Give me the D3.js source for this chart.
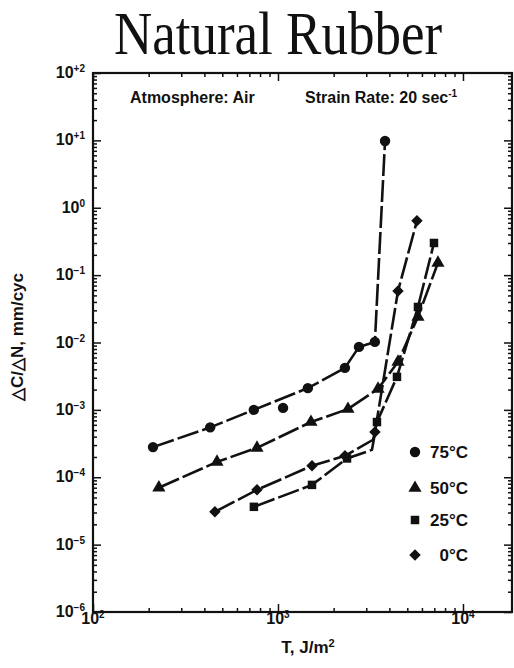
<!DOCTYPE html>
<html>
<head>
<meta charset="utf-8">
<script src="https://cdn.jsdelivr.net/npm/d3@7"></script>
<style>
  body { margin: 0; background: #fff; }
  text { font-family: "Liberation Sans", Arial, sans-serif; font-weight: bold; fill: #111; }
  .title { font-family: "Liberation Serif", "Times New Roman", serif; font-weight: normal; }
</style>
</head>
<body>
<div id="chart"></div>
<script>
// Crack growth rate vs tearing energy, natural rubber
const series = ['75°C', '50°C', '25°C', '0°C'];
const symbols = ['circle', 'triangle', 'square', 'diamond'];

// marker positions: tearing energy T (J/m²) and dC/dN (mm/cyc)
const t75 = [211, 430, 740, 1065, 1450, 2300, 2740, 3340, 3790];
const r75 = [2.8e-4, 5.5e-4, 1.0e-3, 1.07e-3, 2.1e-3, 4.2e-3, 8.6e-3, 1.02e-2, 9.8];
const t50 = [227, 468, 770, 1508, 2390, 3474, 4453, 5710, 7324];
const r50 = [7.0e-5, 1.69e-4, 2.73e-4, 6.6e-4, 1.03e-3, 2.05e-3, 5.15e-3, 0.024, 0.152];
const t25 = [741, 1527, 2361, 3428, 4397, 5710, 6970];
const r25 = [3.64e-5, 7.7e-5, 1.9e-4, 6.6e-4, 3.09e-3, 0.0337, 0.30];
const t0 = [456, 770, 1527, 2303, 3343, 4453, 5640];
const r0 = [3.07e-5, 6.5e-5, 1.48e-4, 2.08e-4, 4.7e-4, 0.058, 0.64];

// hand-drawn fit lines through the points
const fit75T = [211, 430, 740, 1450, 2300, 2740, 3340, 3790];
const fit75R = [2.8e-4, 5.5e-4, 1.0e-3, 2.1e-3, 4.2e-3, 8.6e-3, 1.02e-2, 9.8];
const fit50T = t50;
const fit50R = r50;
const fit25T = [741, 1527, 2361, 3221, 3428, 4397, 5710, 6970];
const fit25R = [3.64e-5, 7.7e-5, 1.9e-4, 2.55e-4, 6.6e-4, 3.09e-3, 0.0337, 0.30];
const fit0T = [456, 770, 1527, 2303, 3264, 3343, 4453, 5640];
const fit0R = [3.07e-5, 6.5e-5, 1.48e-4, 2.08e-4, 3.6e-4, 4.7e-4, 0.058, 0.64];

const xMajor = [1e2, 1e3, 1e4];
const xLabels = ['2', '3', '4'];
const yMajor = [1e-6, 1e-5, 1e-4, 1e-3, 1e-2, 1e-1, 1e0, 1e1, 1e2];
const yLabels = ['−6', '−5', '−4', '−3', '−2', '−1', '0', '+1', '+2'];

const width = 514, height = 668;
const plot = { left: 93, right: 512, top: 73, bottom: 612 };

const svg = d3.select('#chart').append('svg')
    .attr('width', width)
    .attr('height', height);

const x = d3.scaleLog().domain([1e2, Math.pow(10, 4.265)]).range([plot.left, plot.right]);
const y = d3.scaleLog().domain([1e-6, 1e2]).range([plot.bottom, plot.top]);

// minor tick values (2..9 in each decade)
function minors(lo, hi) {
    const out = [];
    for (let d = lo; d < hi; d *= 10) {
        for (let k = 2; k <= 9; k++) out.push(k * d);
    }
    return out;
}
const xMinor = minors(1e2, 1e4).concat([2e4]).filter(v => v <= x.domain()[1]);
const yMinor = minors(1e-6, 1e2);

// Title (the scan is stretched vertically)
svg.append('text')
    .attr('class', 'title')
    .attr('transform', 'translate(278,54) scale(1,1.15)')
    .attr('text-anchor', 'middle')
    .style('font-size', '53px')
    .text('Natural Rubber');

// Axes: all ticks point inward
function addAxis(axisFn, scale, values, size, tr) {
    const g = svg.append('g')
        .attr('transform', tr)
        .call(axisFn(scale).tickValues(values).tickSize(size).tickSizeOuter(0).tickFormat(''));
    g.select('.domain').remove();
    g.selectAll('line').attr('stroke', '#111').attr('stroke-width', 1.5);
    return g;
}
addAxis(d3.axisBottom, x, xMajor, -8, `translate(0,${plot.bottom})`);
addAxis(d3.axisBottom, x, xMinor, -4, `translate(0,${plot.bottom})`);
addAxis(d3.axisTop, x, xMajor, -8, `translate(0,${plot.top})`);
addAxis(d3.axisTop, x, xMinor, -4, `translate(0,${plot.top})`);
addAxis(d3.axisLeft, y, yMajor, -8, `translate(${plot.left},0)`);
addAxis(d3.axisLeft, y, yMinor, -4, `translate(${plot.left},0)`);
addAxis(d3.axisRight, y, yMajor, -8, `translate(${plot.right},0)`);
addAxis(d3.axisRight, y, yMinor, -4, `translate(${plot.right},0)`);

// frame
svg.append('rect')
    .attr('x', plot.left).attr('y', plot.top)
    .attr('width', plot.right - plot.left)
    .attr('height', plot.bottom - plot.top)
    .attr('fill', 'none')
    .attr('stroke', '#111')
    .attr('stroke-width', 2.2);

// y tick labels
yMajor.forEach((v, i) => {
    const t = svg.append('text')
        .attr('x', plot.left - 8)
        .attr('y', y(v) + 5)
        .attr('text-anchor', 'end')
        .style('font-size', '16px');
    t.append('tspan').text('10');
    t.append('tspan').attr('dy', -6).style('font-size', '10px').text(yLabels[i]);
});

// x tick labels
xMajor.forEach((v, i) => {
    const t = svg.append('text')
        .attr('x', x(v))
        .attr('y', 624)
        .attr('text-anchor', 'middle')
        .style('font-size', '16px');
    t.append('tspan').text('10');
    t.append('tspan').attr('dy', -6).style('font-size', '10px').text(xLabels[i]);
});

// axis titles
const xt = svg.append('text')
    .attr('x', 308).attr('y', 653)
    .attr('text-anchor', 'middle')
    .style('font-size', '17px');
xt.append('tspan').text('T,  J/m');
xt.append('tspan').attr('dy', -6).style('font-size', '11px').text('2');

svg.append('text')
    .attr('transform', 'translate(23,337) rotate(-90)')
    .attr('text-anchor', 'middle')
    .style('font-size', '17px')
    .text('△C/△N, mm/cyc');

// annotations
svg.append('text')
    .attr('x', 130).attr('y', 103)
    .style('font-size', '16px')
    .text('Atmosphere: Air');
const sr = svg.append('text')
    .attr('x', 305).attr('y', 103)
    .style('font-size', '16px');
sr.append('tspan').text('Strain Rate: 20 sec');
sr.append('tspan').attr('dy', -6).style('font-size', '10px').text('-1');

// data
const markerT = [t75, t50, t25, t0];
const markerR = [r75, r50, r25, r0];
const fitT = [fit75T, fit50T, fit25T, fit0T];
const fitR = [fit75R, fit50R, fit25R, fit0R];

const symbolType = {
    circle: d3.symbolCircle,
    triangle: d3.symbolTriangle,
    square: d3.symbolSquare,
    diamond: d3.symbolSquare
};
const symbolSize = { circle: 85, triangle: 75, square: 72, diamond: 66 };

function marker(sel, s) {
    sel.append('path')
        .attr('d', d3.symbol().type(symbolType[s]).size(symbolSize[s])())
        .attr('transform', s === 'diamond' ? 'rotate(45)' : null)
        .attr('fill', '#111');
}

const line = d3.line()
    .x(d => x(d[0]))
    .y(d => y(d[1]));

series.forEach((name, i) => {
    const pts = fitT[i].map((t, j) => [t, fitR[i][j]]);
    svg.append('path')
        .datum(pts)
        .attr('d', line)
        .attr('fill', 'none')
        .attr('stroke', '#111')
        .attr('stroke-width', 2.6)
        .attr('stroke-dasharray', '22,4');

    markerT[i].forEach((t, j) => {
        const g = svg.append('g')
            .attr('transform', `translate(${x(t)},${y(markerR[i][j])})`);
        marker(g, symbols[i]);
    });
});

// legend
const legendY = [452, 488, 520, 555];
series.forEach((name, i) => {
    const g = svg.append('g').attr('transform', `translate(415,${legendY[i]})`);
    marker(g, symbols[i]);
    svg.append('text')
        .attr('x', 468).attr('y', legendY[i] + 6)
        .attr('text-anchor', 'end')
        .style('font-size', '17px')
        .text(name);
});
</script>
</body>
</html>
